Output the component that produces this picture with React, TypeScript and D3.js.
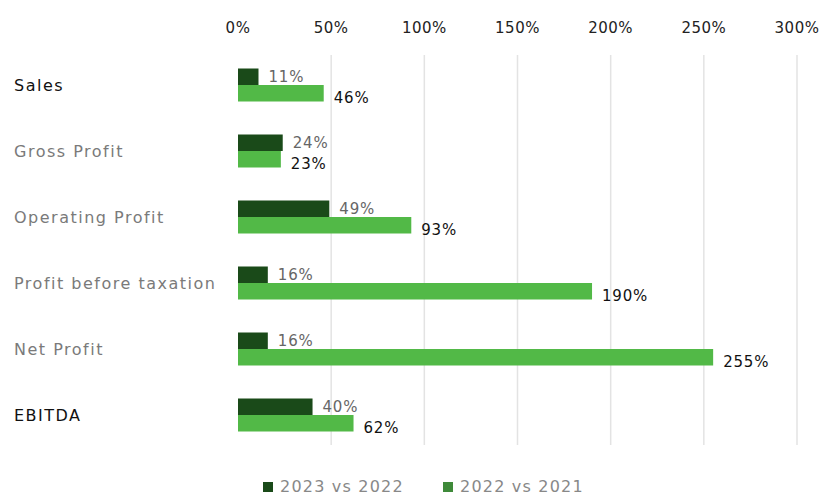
import React from "react";
import * as d3 from "d3";

const categories = ["Sales", "Gross Profit", "Operating Profit", "Profit before taxation", "Net Profit", "EBITDA"];
const boldCategories = ["Sales", "EBITDA"];
const series2023vs2022 = [11, 24, 49, 16, 16, 40];
const series2022vs2021 = [46, 23, 93, 190, 255, 62];
const seriesNames = ["2023 vs 2022", "2022 vs 2021"];
const xTicks = [0, 50, 100, 150, 200, 250, 300];

const W = 824;
const H = 496;
const DARK = "#1a4a19";
const LIGHT = "#52b947";
const FONT = "'DejaVu Sans', sans-serif";

export default function App() {
  const x = d3.scaleLinear().domain([0, 300]).range([238, 797]);
  const y = d3.scaleBand<string>().domain(categories).range([52, 448]).paddingInner(0.5).paddingOuter(0.25);
  const bh = y.bandwidth() / 2;
  return (
    <svg width={W} height={H} style={{ position: "absolute", left: 0, top: 0, background: "#fff" }}>
      {xTicks.map((t) => (
        <g key={t}>
          {t > 0 && <line x1={x(t)} x2={x(t)} y1={55} y2={445} stroke="#e3e3e3" strokeWidth={1.5} />}
          <text x={x(t)} y={33} textAnchor="middle" fontFamily={FONT} fontSize={15} letterSpacing={0.5} fill="#222">{t}%</text>
        </g>
      ))}
      {categories.map((c, i) => {
        const y0 = y(c)!;
        const v1 = series2023vs2022[i];
        const v2 = series2022vs2021[i];
        return (
          <g key={c}>
            <text x={14} y={y0 + bh} dy="0.35em" fontFamily={FONT} fontSize={16} letterSpacing={1.5}
              fill={boldCategories.includes(c) ? "#111" : "#7a7a7a"}>{c}</text>
            <rect x={x(0)} y={y0} width={x(v1) - x(0)} height={bh} fill={DARK} />
            <rect x={x(0)} y={y0 + bh} width={x(v2) - x(0)} height={bh} fill={LIGHT} />
            <text x={x(v1) + 10} y={y0 + bh - 3} fontFamily={FONT} fontSize={15} letterSpacing={0.8} fill="#666">{v1}%</text>
            <text x={x(v2) + 10} y={y0 + 2 * bh + 1} fontFamily={FONT} fontSize={15} letterSpacing={0.8} fill="#111">{v2}%</text>
          </g>
        );
      })}
      {seriesNames.map((s, i) => {
        const lx = i === 0 ? 263 : 443;
        return (
          <g key={s}>
            <rect x={lx} y={482} width={10} height={10} fill={i === 0 ? DARK : "#3f8a3a"} />
            <text x={lx + 17} y={492} fontFamily={FONT} fontSize={16} letterSpacing={1.2} fill="#888">{s}</text>
          </g>
        );
      })}
    </svg>
  );
}
